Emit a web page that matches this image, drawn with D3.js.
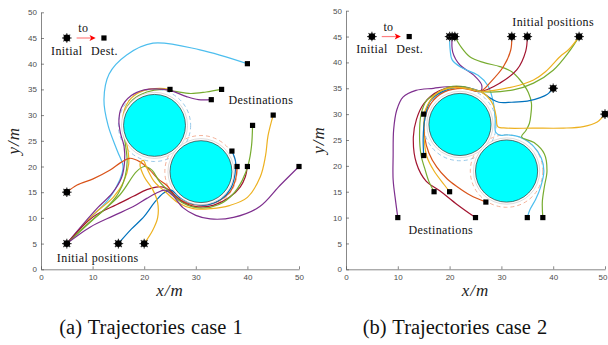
<!DOCTYPE html>
<html>
<head>
<meta charset="utf-8">
<script src="https://cdn.jsdelivr.net/npm/d3@7"></script>
<style>
  body { margin: 0; background: #fff; }
  svg { display: block; }
  .tick text { font-family: "Liberation Sans", Arial, sans-serif; font-size: 8px; fill: #4d4d4d; }
  .tick line, .domain { stroke: #555; stroke-width: 0.7; }
  .note { font-family: "Liberation Serif", "Times New Roman", serif; font-size: 12px; fill: #111; letter-spacing: 0.4px; }
  .axlabel { font-family: "Liberation Serif", serif; font-style: italic; font-size: 17px; fill: #222; letter-spacing: 1px; }
  .caption { font-family: "Liberation Serif", "Times New Roman", serif; font-size: 20.5px; fill: #111; word-spacing: 1px; }
</style>
</head>
<body>
<div id="chart"></div>
<script>
// obstacles (x, y, radius), same in both cases
const obstacles = [[22, 28, 6], [31, 19, 6]];
const safetyRadius = 7;

const xTicks = [0, 10, 20, 30, 40, 50];
const yTicks = [0, 5, 10, 15, 20, 25, 30, 35, 40, 45, 50];

// MATLAB default line colours
const C = {
  blue: '#0072BD', orange: '#D95319', yellow: '#EDB120', purple: '#7E2F8E',
  green: '#77AC30', lightblue: '#4DBEEE', darkred: '#A2142F'
};

// case 1
const init1 = [[5, 15], [5, 5], [15, 5], [20, 5]];
const dest1 = [[40, 40], [25, 35], [35, 35], [33, 33], [37, 23], [38, 20], [40, 20], [41, 28], [45, 30], [50, 20]];
const traj1 = [
  { c: 'lightblue', p: [[5,5],[9,9.5],[13,13.5],[15.3,17.5],[15.9,20],[14.8,23],[13,28],[12.2,33],[13.2,38],[16.6,41.7],[21.7,44],[30.8,42.7],[40,40]] },
  { c: 'yellow', p: [[5,5],[10,10.5],[14,14],[16,17],[17,20.5],[16.8,23.5],[16,27],[16,30.5],[17.5,33.3],[20,34.8],[23,35.2],[25,35]] },
  { c: 'green', p: [[5,5],[9,8.8],[12.5,11.8],[15,14.8],[16.3,18],[16.7,21],[16.4,24],[16,27],[16.2,30.5],[17.8,33],[20.5,34.5],[23.5,35],[26,34.6],[29,34.2],[32,34.5],[35,35]] },
  { c: 'purple', p: [[5,5],[8,8.6],[11,12],[13.8,14.8],[15.6,17.8],[16.2,21],[16.1,23.9],[15.4,26.5],[15.1,29],[15.6,31.5],[17.5,33.8],[20,34.9],[22.4,35.1],[25,34.8],[28.2,33.6],[30.5,33],[33,33]] },
  { c: 'orange', p: [[5,15],[7,16.4],[10.1,17.6],[13.4,19.3],[15.5,20.8],[17.2,21.6],[19.2,20.9],[21,19.4],[22.8,17.5],[24.4,16.3],[26,14.3],[28.5,12.8],[31.5,12.5],[34.5,13.3],[36.6,15],[37.7,17.5],[38,20]] },
  { c: 'blue', p: [[15,5],[17.5,7.8],[20,10.3],[22,13],[23.7,14.8],[25.2,15.4],[26.8,14],[29.5,12.7],[32.5,12.6],[35,13.7],[36.8,15.8],[37.6,18.5],[37.7,21],[37,23]] },
  { c: 'darkred', p: [[5,5],[10.1,10.2],[14.7,12.6],[17.9,14.2],[20.5,15.5],[22.3,16],[23.7,16],[25,15.3],[27,13.4],[30,12.2],[33.5,12.5],[36.5,14],[38.6,16],[39.6,18],[40,20]] },
  { c: 'green', p: [[5,5],[10,9.6],[15.3,14.5],[18.5,19],[20,20],[21.5,19.3],[23,17],[25,15],[27.5,12.9],[31,11.9],[34.5,12.6],[37.2,14.6],[39,17.3],[40.2,20.5],[40.8,24],[41,28]] },
  { c: 'yellow', p: [[20,5],[21.6,7.5],[22.6,10],[22.6,13],[21.6,15.6],[20,18],[19.2,20.5],[19.8,21.2],[20.6,19.5],[22,17],[24.2,15],[26.5,13],[29.5,11.8],[33,11.8],[36.5,12.4],[40,14],[42.5,18],[43.5,22],[44,26],[45,30]] },
  { c: 'purple', p: [[5,5],[9.5,8.2],[14,10.4],[17.9,12.2],[20.5,13.8],[22.3,14.8],[24,15.4],[25.5,14.4],[27.5,12],[30,10.5],[32.8,9.8],[37.3,10.1],[42.4,12.2],[46.3,16.3],[50,20]] }
];

// case 2
const init2 = [[20, 45], [20.5, 45], [21, 45], [32, 45], [35, 45], [45, 45], [40, 35], [50, 30]];
const dest2 = [[15, 30], [15, 22], [17, 15], [20, 15], [27, 13], [10, 10], [25, 10], [35, 10], [38, 10]];
const traj2 = [
  { c: 'purple', p: [[20.5,45],[20.6,42],[22,39.5],[24.6,37.6],[26.2,35.6],[25.9,34.4],[23,35.2],[19.5,35.3],[16.9,35],[13.5,34.6],[11,33.3],[9.8,30.8],[9.2,27],[9.1,22],[9.1,17.3],[9.6,13],[10,10]] },
  { c: 'lightblue', p: [[20,45],[20.1,42.5],[20.5,40.5],[22.3,39],[25.5,37.5],[27.4,35.5],[28.4,32.5],[28.8,29],[28.9,26.5],[29.9,25.9],[31,26],[33.5,25.6],[36,24],[37.7,21.5],[38.2,19],[37.6,16],[36.6,13.5],[35.5,11.5],[35,10]] },
  { c: 'green', p: [[21,45],[22.2,43],[23.9,41.1],[26.5,40],[29.7,39.2],[32,38.2],[33.6,36.6],[35.2,34.2],[35.8,32.1],[35.7,30],[35.4,28.2],[34.7,26.8],[33.9,25.6],[36.3,24.5],[38.3,22.3],[38.8,19],[38.3,16],[37.9,13],[38,10]] },
  { c: 'orange', p: [[32,45],[31.8,42.4],[30.4,39.2],[28,36.3],[25.9,34.4],[22.5,35],[19,34.3],[16.5,32.2],[15.2,29],[15.2,25.5],[16,22.5],[17.5,19.8],[19.5,17.5],[21.4,16],[24,14.3],[27,13]] },
  { c: 'darkred', p: [[35,45],[34.7,42.2],[33,38.6],[29.7,36],[25.9,34.4],[22.5,35.3],[18,34.5],[15,32],[13.6,29],[13,25.6],[13.6,20.5],[15.5,17],[18.1,15.2],[21.5,12.5],[25,10]] },
  { c: 'green', p: [[45,45],[43,42],[40,38.5],[36.2,36],[32.3,34.7],[25.9,34.4],[23,35.3],[20,35.3],[17.5,34],[15.6,32.7],[14.5,30],[14.2,26],[14.5,22],[15.2,19.5],[16,17],[17,15]] },
  { c: 'yellow', p: [[45,45],[43,42.5],[41.3,41.1],[38.5,38.2],[36.2,36.6],[32.3,35.3],[25.9,34.4],[23,35],[20,35.1],[17,33.6],[15.5,31],[15,28],[15.1,25],[15.6,21.8],[17,19],[19,16.3],[20,15]] },
  { c: 'blue', p: [[40,35],[38.8,33.8],[37.5,33.2],[35,32.5],[32,32.3],[29.5,32.3],[28,33],[25.9,34.4],[22,35.2],[18.5,34.3],[16.2,32.4],[15.2,29],[14.9,25.5],[15,22]] },
  { c: 'yellow', p: [[50,30],[48.5,28.5],[45.8,27.6],[42,27.3],[36,27.3],[31,27.3],[29.3,27.6],[29,29.5],[28.4,31.8],[27.2,33.5],[25.9,34.4],[23,35.1],[20,35],[17.5,34],[16,32.2],[15,30]] }
];

const W = 608, H = 345;
const svg = d3.select('#chart').append('svg').attr('width', W).attr('height', H);

function panel(opts) {
  const x = d3.scaleLinear().domain([0, 50]).range(opts.xr);
  const y = d3.scaleLinear().domain([0, 50]).range(opts.yr);
  const k = (opts.xr[1] - opts.xr[0]) / 50;
  const g = svg.append('g');

  const xa = g.append('g').attr('transform', `translate(0,${opts.yr[0]})`)
    .call(d3.axisBottom(x).tickValues(xTicks).tickSizeInner(-3).tickSizeOuter(0).tickPadding(5));
  // keep the last label inside the page
  xa.selectAll('.tick text').filter(d => x(d) + 5 > W).attr('text-anchor', 'end').attr('dx', W - 1 - x(50));
  g.append('g').attr('transform', `translate(${opts.xr[0]},0)`)
    .call(d3.axisLeft(y).tickValues(yTicks).tickSizeInner(-3).tickSizeOuter(0).tickPadding(4));

  // safety circles
  const dashCol = ['#8cc3e6', '#f2a98e'];
  obstacles.forEach((o, i) => {
    g.append('circle').attr('cx', x(o[0])).attr('cy', y(o[1])).attr('r', safetyRadius * k)
      .attr('fill', 'none').attr('stroke', dashCol[i]).attr('stroke-width', 0.9).attr('stroke-dasharray', '4,3');
  });

  const line = d3.line().x(d => x(d[0])).y(d => y(d[1])).curve(d3.curveCatmullRom.alpha(0.5));
  g.selectAll('path.traj').data(opts.traj).enter().append('path')
    .attr('class', 'traj').attr('d', d => line(d.p))
    .attr('fill', 'none').attr('stroke', d => C[d.c]).attr('stroke-width', 1.2);

  // obstacles
  obstacles.forEach(o => {
    g.append('circle').attr('cx', x(o[0])).attr('cy', y(o[1])).attr('r', 6.4 * k)
      .attr('fill', '#fff').attr('stroke', '#c4c4c4').attr('stroke-width', 0.6);
    g.append('circle').attr('cx', x(o[0])).attr('cy', y(o[1])).attr('r', o[2] * k)
      .attr('fill', '#00ffff').attr('stroke', '#333').attr('stroke-width', 0.7);
  });

  function initMarker(px, py) {
    const m = g.append('g').attr('transform', `translate(${px},${py})`);
    for (let a = 0; a < 4; a++) {
      const t = a * Math.PI / 4;
      m.append('line').attr('x1', -4.8 * Math.cos(t)).attr('y1', -4.8 * Math.sin(t))
        .attr('x2', 4.8 * Math.cos(t)).attr('y2', 4.8 * Math.sin(t))
        .attr('stroke', '#333').attr('stroke-width', 1.1);
    }
    m.append('circle').attr('r', 3.4).attr('fill', '#000');
  }
  function destMarker(px, py) {
    g.append('rect').attr('x', px - 2.6).attr('y', py - 2.6).attr('width', 5.2).attr('height', 5.2).attr('fill', '#000');
  }

  opts.init.forEach(d => initMarker(x(d[0]), y(d[1])));
  opts.dest.forEach(d => destMarker(x(d[0]), y(d[1])));

  // small key: Initial -> Dest.
  initMarker(x(5), y(45));
  destMarker(x(12.2), y(45));
  g.append('line').attr('x1', x(6.9)).attr('y1', y(45)).attr('x2', x(9.8)).attr('y2', y(45))
    .attr('stroke', '#ff8080').attr('stroke-width', 1.2);
  g.append('path')
    .attr('d', `M${x(10.6)},${y(45)} L${x(9.4)},${y(45) - 3} L${x(9.7)},${y(45)} L${x(9.4)},${y(45) + 3} Z`)
    .attr('fill', '#ff0000');
  g.append('text').attr('class', 'note').attr('x', x(8.2)).attr('y', y(46.9)).attr('dy', '0.35em')
    .attr('text-anchor', 'middle').text('to');
  g.append('text').attr('class', 'note').attr('x', x(5)).attr('y', y(42.6)).attr('dy', '0.35em')
    .attr('text-anchor', 'middle').text('Initial');
  g.append('text').attr('class', 'note').attr('x', x(12.3)).attr('y', y(42.6)).attr('dy', '0.35em')
    .attr('text-anchor', 'middle').text('Dest.');

  opts.notes.forEach(n => {
    g.append('text').attr('class', 'note').attr('x', x(n[1])).attr('y', y(n[2])).attr('dy', '0.35em')
      .attr('text-anchor', 'middle').text(n[0]);
  });

  const xm = (opts.xr[0] + opts.xr[1]) / 2;
  g.append('text').attr('class', 'axlabel').attr('x', xm).attr('y', 296).attr('text-anchor', 'middle').text('x/m');
  g.append('text').attr('class', 'axlabel')
    .attr('transform', `translate(${opts.xr[0] - 22},${(opts.yr[0] + opts.yr[1]) / 2}) rotate(-90)`)
    .attr('text-anchor', 'middle').text('y/m');
  g.append('text').attr('class', 'caption').attr('x', opts.capx).attr('y', 334)
    .attr('text-anchor', 'middle').text(opts.caption);
}

panel({ xr: [41, 299], yr: [269.3, 12.3], traj: traj1, init: init1, dest: dest1,
  notes: [['Destinations', 42.6, 32.9], ['Initial positions', 11, 2.3]],
  capx: 151, caption: '(a) Trajectories case 1' });
panel({ xr: [346, 605], yr: [269.3, 10.7], traj: traj2, init: init2, dest: dest2,
  notes: [['Initial positions', 40, 47.9], ['Destinations', 18.3, 7.7]],
  capx: 455, caption: '(b) Trajectories case 2' });
</script>
</body>
</html>
